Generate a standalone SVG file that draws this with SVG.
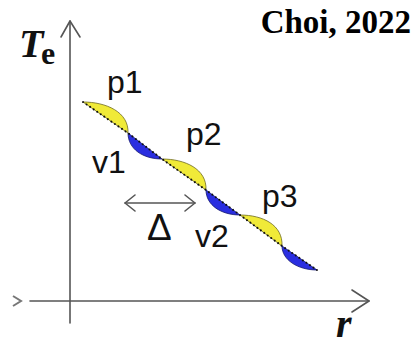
<svg xmlns="http://www.w3.org/2000/svg" width="412" height="344" viewBox="0 0 412 344">
<style>
.ax{fill:none;stroke:#555;stroke-width:1.6;stroke-linecap:round;stroke-linejoin:round}
.lbl{font-family:"Liberation Sans",Arial,sans-serif;font-size:32px;fill:#111}
.yel{fill:#f0ea38;stroke:#6d6a22;stroke-width:0.8}
.blu{fill:#2a2ee0;stroke:#14186e;stroke-width:0.8}
.dots{fill:none;stroke:#111;stroke-width:2;stroke-dasharray:0.1 4.2;stroke-linecap:round}
</style>
<rect width="412" height="344" fill="#fff"/>
<g id="axes">
  <line class="ax" x1="70" y1="21" x2="70" y2="323"/>
  <polyline class="ax" points="61,37 70,21 80,37"/>
  <line class="ax" x1="30" y1="301" x2="369" y2="301"/>
  <polyline class="ax" points="352,290 369,301 352,312"/>
  <polyline points="13,296 21,301 13,306" fill="none" stroke="#777" stroke-width="2"/>
</g>
<g id="curve">
  <path class="yel" d="M83,102 C106,102 129,112 128,133 Z"/>
  <path class="blu" d="M128,133 C128,149 143,159 162,159 Z"/>
  <path class="yel" d="M162,159 C185,159 207,169 206,190 Z"/>
  <path class="blu" d="M206,190 C206,205 221,215 240,215 Z"/>
  <path class="yel" d="M240,215 C263,215 283,225 282,246 Z"/>
  <path class="blu" d="M282,246 C282,260 298,270 317,270 Z"/>
  <polyline class="dots" points="83,102 128,133 162,159 206,190 240,215 282,246 317,270"/>
</g>
<g id="delta">
  <line class="ax" x1="125" y1="203" x2="195" y2="203"/>
  <polyline class="ax" points="135,195 125,203 135,211"/>
  <polyline class="ax" points="185,195 195,203 185,211"/>
  <text x="147" y="240" style="font-family:'Liberation Sans',Arial,sans-serif;font-size:37px;fill:#111">Δ</text>
</g>
<g id="labels">
  <text class="lbl" x="107" y="93">p1</text>
  <text class="lbl" x="186" y="145">p2</text>
  <text class="lbl" x="262" y="207">p3</text>
  <text class="lbl" x="92" y="173">v1</text>
  <text class="lbl" x="195" y="247">v2</text>
</g>
<g id="axis-titles" font-family="'Liberation Serif','Times New Roman',serif" fill="#111" font-weight="bold">
  <text x="19" y="57" font-size="40" font-style="italic">T</text>
  <text x="41" y="64" font-size="32">e</text>
  <text x="336" y="337" font-size="40" font-style="italic">r</text>
</g>
<text id="citation" x="411" y="33" text-anchor="end" font-family="'Liberation Serif','Times New Roman',serif" font-weight="bold" font-size="33" fill="#000">Choi, 2022</text>
</svg>
